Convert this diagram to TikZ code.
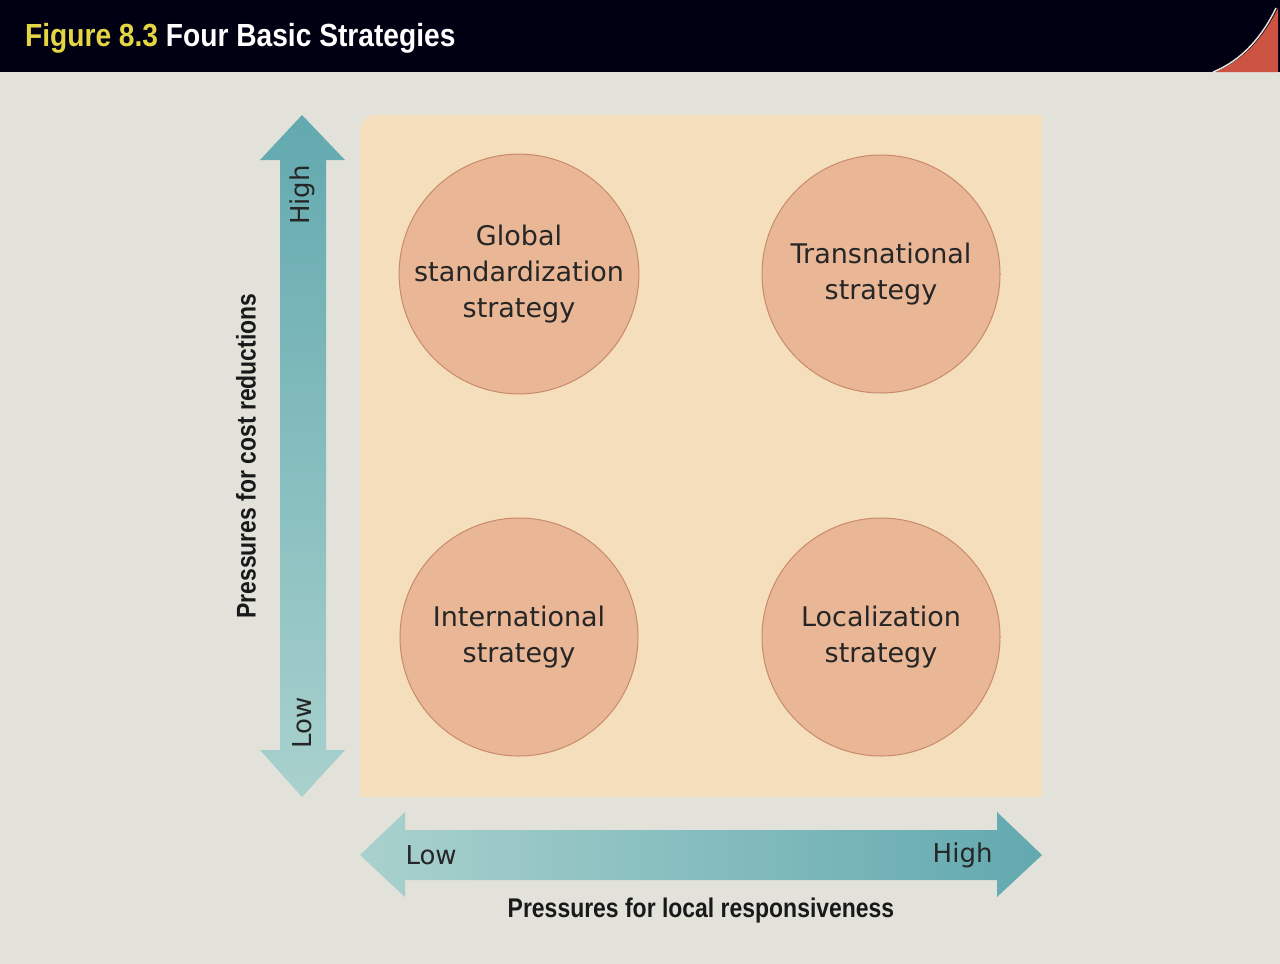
\documentclass[tikz,border=0pt]{standalone}
\usepackage{fontspec}
\setmainfont{DejaVu Sans}
\newfontfamily\condb{Liberation Sans}
\begin{document}
\begin{tikzpicture}[x=1pt,y=-1pt,
  circ/.style={circle,minimum size=238pt,fill=cfill,draw=cedge,line width=1pt,align=center,font=\fontsize{27}{36}\selectfont,text=black!85},
  axlab/.style={font=\fontsize{26}{30}\selectfont,text=black!85},
  bold/.style={font=\condb\bfseries\fontsize{27}{30}\selectfont,text=black!90}]
\definecolor{bg}{HTML}{E3E2DA}
\definecolor{panel}{HTML}{F5DEBB}
\definecolor{cfill}{HTML}{E9B696}
\definecolor{cedge}{HTML}{C98A6C}
\definecolor{adark}{HTML}{62A9AF}
\definecolor{alight}{HTML}{A9D1CD}
\definecolor{ttl}{HTML}{E3D544}
\definecolor{hred}{HTML}{CC5242}
\useasboundingbox (0,0) rectangle (1280,964);
\fill[bg] (0,0) rectangle (1280,964);
\fill[black!93!blue] (0,0) rectangle (1280,72);
\fill[hred] (1215,72) .. controls (1245,60) and (1265,35) .. (1278,8) -- (1278,72) -- cycle;
\draw[bg,line width=1.5pt] (1213,72) .. controls (1243,60) and (1263,35) .. (1276,8);
\node[anchor=west,font=\condb\bfseries\fontsize{32}{36}\selectfont,xscale=0.88] (title) at (22,38) {\textcolor{ttl}{Figure 8.3} \textcolor{white}{Four Basic Strategies}};
% panel
\fill[panel,rounded corners=16pt] (360,797) -- (360,115) -- (1042,115) [sharp corners] -- (1042,797) -- cycle;
\fill[panel] (1020,115) rectangle (1042,797);
% vertical arrow
\shade[top color=adark,bottom color=alight] (302,115) -- (345,160) -- (326,160) -- (326,750) -- (345,750) -- (302,797) -- (260,750) -- (280,750) -- (280,160) -- (260,160) -- cycle;
% horizontal arrow
\shade[left color=alight,right color=adark] (360,855) -- (405,812) -- (405,830) -- (997,830) -- (997,812) -- (1042,855) -- (997,897) -- (997,880) -- (405,880) -- (405,897) -- cycle;
\node[axlab,rotate=90] (vh) at (302,195) {High};
\node[axlab,rotate=90] (vl) at (302,723) {Low};
\node[axlab,anchor=west] (hl) at (402,855) {Low};
\node[axlab,anchor=east] (hh) at (996,855) {High};
\node[bold,rotate=90,xscale=0.85] (vlab) at (246,456) {Pressures for cost reductions};
\node[bold,xscale=0.85] (hlab) at (701,911) {Pressures for local responsiveness};
\node[circ] (g) at (519,274) {Global\\standardization\\strategy};
\node[circ] (t) at (881,274) {Transnational\\strategy};
\node[circ] (i) at (519,637) {International\\strategy};
\node[circ] (l) at (881,637) {Localization\\strategy};
\end{tikzpicture}
\end{document}
